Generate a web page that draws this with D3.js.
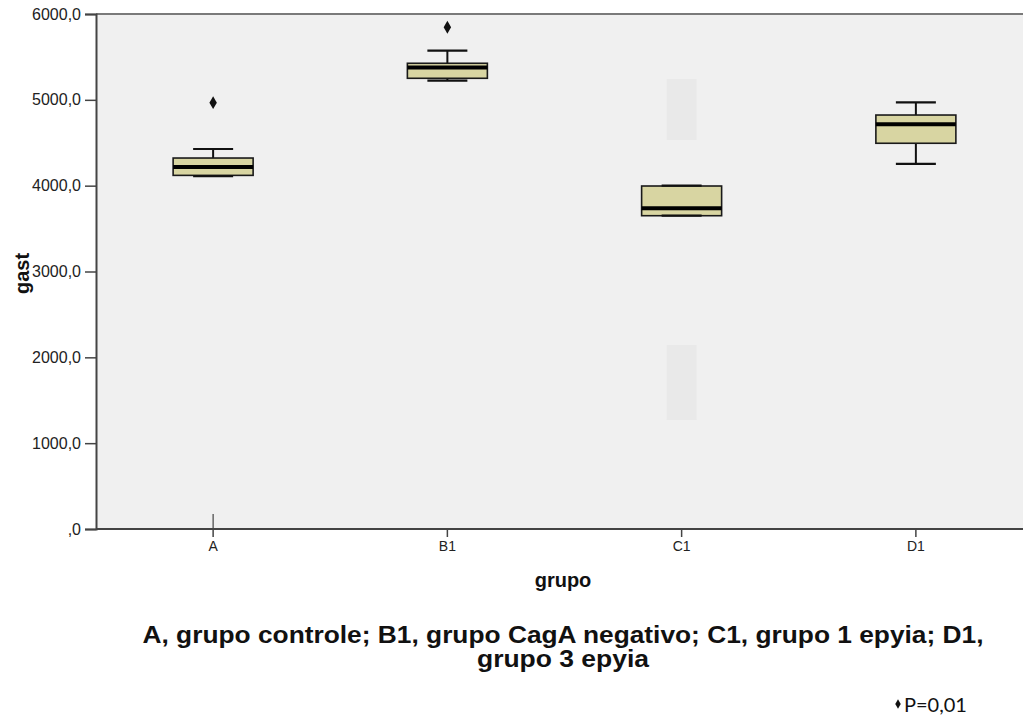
<!DOCTYPE html>
<html>
<head>
<meta charset="utf-8">
<script src="https://cdn.jsdelivr.net/npm/d3@7"></script>
<style>
  html, body { margin: 0; padding: 0; background: #fff; }
  svg { display: block; }
</style>
</head>
<body>
<svg id="chart" width="1023" height="718"></svg>
<script>
// Box-plot summary of gastrin ("gast") by group
const groups        = ["A", "B1", "C1", "D1"];
const lowerWhisker  = [4110, 5223, 3650, 4253];
const q1            = [4120, 5251, 3650, 4494];
const median        = [4218, 5377, 3737, 4715];
const q3            = [4322, 5426, 3996, 4823];
const upperWhisker  = [4427, 5573, 4000, 4971];
const outlierGroup  = ["A", "B1"];
const outlierValue  = [4967, 5845];
const extremeGroup  = ["A"];
const extremeValue  = [0];
const yTicks        = [0, 1000, 2000, 3000, 4000, 5000, 6000];

const svg = d3.select("#chart");
const plot = { left: 96, top: 14, bottom: 529, right: 1033 };

const x = d3.scaleBand().domain(groups).range([plot.left, plot.right]).padding(0);
const y = d3.scaleLinear().domain([0, 6000]).range([plot.bottom, plot.top]);
const cx = g => x(g) + x.bandwidth() / 2;
const boxW = 80, capW = 40;

const fmt = v => v === 0 ? ",0" : d3.format(".1f")(v).replace(".", ",");
const sans = "Liberation Sans, Arial, sans-serif";

// plot background
svg.append("rect")
  .attr("x", plot.left).attr("y", plot.top)
  .attr("width", 1023 - plot.left).attr("height", plot.bottom - plot.top)
  .attr("fill", "#f0f0f0");

// faint patches behind C1
const patchLo = [4532, 1270], patchHi = [5243, 2144];
svg.selectAll("rect.patch").data(patchLo).join("rect")
  .attr("class", "patch")
  .attr("x", cx("C1") - 15).attr("width", 30)
  .attr("y", (d, i) => y(patchHi[i]))
  .attr("height", (d, i) => y(d) - y(patchHi[i]))
  .attr("fill", "#e9e9e9");

// top frame line
svg.append("line")
  .attr("x1", plot.left).attr("x2", 1023)
  .attr("y1", plot.top).attr("y2", plot.top)
  .attr("stroke", "#7a7a7a").attr("stroke-width", 2.2);

// y axis
const yAxis = d3.axisLeft(y).tickValues(yTicks).tickFormat(fmt).tickSize(11).tickPadding(4);
const gy = svg.append("g").attr("transform", `translate(${plot.left},0)`).call(yAxis);
gy.select(".domain").attr("stroke", "#444").attr("stroke-width", 2);
gy.selectAll(".tick line").attr("stroke", "#444").attr("stroke-width", 1.5);
gy.selectAll(".tick text")
  .attr("font-family", sans).attr("font-size", 16).attr("fill", "#222");

// x axis
const xAxis = d3.axisBottom(x).tickSize(8).tickPadding(4);
const gx = svg.append("g").attr("transform", `translate(0,${plot.bottom})`).call(xAxis);
gx.select(".domain").attr("d", `M${plot.left},0H1023`).attr("stroke", "#444").attr("stroke-width", 2);
gx.selectAll(".tick line").attr("stroke", "#444").attr("stroke-width", 1.5);
gx.selectAll(".tick text")
  .attr("font-family", sans).attr("font-size", 14).attr("fill", "#222");

// extreme values drawn as thin marks on the axis
svg.selectAll("g.extreme").data(extremeGroup).join("g")
  .attr("class", "extreme")
  .each(function (g, i) {
    const s = d3.select(this), px = cx(g), py = y(extremeValue[i]);
    s.append("line").attr("x1", px).attr("x2", px).attr("y1", py - 15).attr("y2", py)
      .attr("stroke", "#444").attr("stroke-width", 1.2);
  });

// boxes
const boxes = svg.selectAll("g.box").data(groups).join("g").attr("class", "box");
boxes.each(function (g, i) {
  const s = d3.select(this), c = cx(g);
  // whisker stems
  s.append("line").attr("x1", c).attr("x2", c)
    .attr("y1", y(upperWhisker[i])).attr("y2", y(q3[i]))
    .attr("stroke", "#111").attr("stroke-width", 2);
  s.append("line").attr("x1", c).attr("x2", c)
    .attr("y1", y(q1[i])).attr("y2", y(lowerWhisker[i]))
    .attr("stroke", "#111").attr("stroke-width", 2);
  // box
  s.append("rect")
    .attr("x", c - boxW / 2).attr("width", boxW)
    .attr("y", y(q3[i])).attr("height", y(q1[i]) - y(q3[i]))
    .attr("fill", "#d8d5a2").attr("stroke", "#1a1a1a").attr("stroke-width", 1.6);
  // whisker caps
  [upperWhisker[i], lowerWhisker[i]].forEach(v => {
    s.append("line").attr("x1", c - capW / 2).attr("x2", c + capW / 2)
      .attr("y1", y(v)).attr("y2", y(v))
      .attr("stroke", "#111").attr("stroke-width", 2.2);
  });
  // median
  s.append("line").attr("x1", c - boxW / 2).attr("x2", c + boxW / 2)
    .attr("y1", y(median[i])).attr("y2", y(median[i]))
    .attr("stroke", "#000").attr("stroke-width", 4);
});

// outliers
svg.selectAll("path.outlier").data(outlierGroup).join("path")
  .attr("class", "outlier")
  .attr("transform", (g, i) => `translate(${cx(g)},${y(outlierValue[i])})`)
  .attr("d", d3.symbol(d3.symbolDiamond, 48))
  .attr("fill", "#111");

// axis titles
svg.append("text")
  .attr("transform", `translate(29,${(plot.top + plot.bottom) / 2 + 2}) rotate(-90)`)
  .attr("text-anchor", "middle")
  .attr("font-family", sans)
  .attr("font-weight", "bold").attr("font-size", 20).attr("fill", "#111")
  .text("gast");

svg.append("text")
  .attr("x", 563).attr("y", 587)
  .attr("text-anchor", "middle")
  .attr("font-family", sans)
  .attr("font-weight", "bold").attr("font-size", 20).attr("fill", "#111")
  .text("grupo");

// caption
const captionLines = ["A, grupo controle; B1, grupo CagA negativo; C1, grupo 1 epyia; D1,", "grupo 3 epyia"];
const captionWidths = [841, 172];
svg.selectAll("text.caption").data(captionLines).join("text")
  .attr("class", "caption")
  .attr("x", 563).attr("y", (d, i) => 643 + i * 24)
  .attr("text-anchor", "middle")
  .attr("font-family", sans)
  .attr("font-weight", "bold").attr("font-size", 23).attr("fill", "#111")
  .attr("textLength", (d, i) => captionWidths[i])
  .attr("lengthAdjust", "spacingAndGlyphs")
  .text(d => d);

// significance note
svg.append("path")
  .attr("transform", "translate(898,704)")
  .attr("d", d3.symbol(d3.symbolDiamond, 26))
  .attr("fill", "#111");
svg.append("text")
  .attr("x", 904).attr("y", 712)
  .attr("font-family", "Lato, Carlito, sans-serif")
  .attr("font-size", 20).attr("fill", "#111")
  .text("P=0,01");
</script>
</body>
</html>
